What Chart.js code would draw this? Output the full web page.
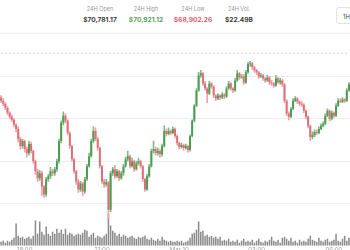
<!DOCTYPE html>
<html><head><meta charset="utf-8">
<script src="https://cdn.jsdelivr.net/npm/chart.js@4/dist/chart.umd.min.js"></script>
<style>
html,body{margin:0;padding:0;width:350px;height:250px;overflow:hidden;background:#fff;font-family:Inter,"Noto Sans",sans-serif;}
.stat{position:absolute;top:6px;width:60px;margin-left:-30px;text-align:center;}
.lab{font-size:5.5px;color:#9a9a9a;line-height:7px;}
.val{font-size:6.6px;font-weight:700;color:#3a3a3a;line-height:8px;margin-top:3px;white-space:nowrap;}
.sep{position:absolute;left:0;top:33px;width:350px;height:1px;background:#ececec;}
.btn{position:absolute;left:336px;top:7px;width:24px;height:17px;border:1px solid #e3e3e3;border-radius:3px;font-size:6px;color:#444;line-height:17px;padding-left:6px;box-sizing:border-box;}
#c{position:absolute;left:0;top:34px;}
</style></head><body>
<div class="stat" style="left:100px"><div class="lab">24H Open</div><div class="val">$70,781.17</div></div>
<div class="stat" style="left:146px"><div class="lab">24H High</div><div class="val" style="color:#5aa35a">$70,921.12</div></div>
<div class="stat" style="left:193px"><div class="lab">24H Low</div><div class="val" style="color:#d9626a">$68,902.26</div></div>
<div class="stat" style="left:239px"><div class="lab">24H Vol.</div><div class="val">$22.49B</div></div>
<div class="btn">1H</div>
<div class="sep"></div>
<canvas id="c" width="350" height="221"></canvas>
<script>
// 5-minute candles, Mar 9 17:05 -> Mar 10 06:35
const tickTimes  = ['18:00','21:00','00:00','03:00','06:00'];
const tickLabels = ['18:00','21:00','Mar 10','03:00','06:00'];
const startMinute = 17*60+5, stepMinutes = 5, candleCount = 163;
const categories = [];
for (let i=0;i<candleCount;i++){const t=(startMinute+i*stepMinutes)%1440;categories.push(String(Math.floor(t/60)).padStart(2,'0')+':'+String(t%60).padStart(2,'0'));}

const opens = [70290,
70260,70230,70190,70140,70100,70070,70020,69980,69880,69810,
69860,69780,69740,69830,69760,69660,69560,69490,69540,69410,
69330,69480,69510,69560,69540,69580,69660,69860,70040,70110,
70060,69940,69810,69680,69560,69460,69380,69440,69360,69480,
69610,69710,69860,69960,69880,69790,69610,69460,69430,69450,
69180,69540,69580,69510,69560,69490,69540,69610,69680,69710,
69610,69660,69580,69640,69660,69610,69480,69380,69510,69610,
69760,69780,69740,69760,69730,69810,69960,69930,69960,69940,
69980,69910,69840,69800,69820,69790,69810,69770,69910,70060,
70210,70360,70510,70530,70430,70380,70330,70430,70400,70310,
70280,70310,70290,70320,70300,70380,70430,70380,70360,70460,
70530,70490,70500,70440,70540,70620,70630,70590,70560,70540,
70500,70510,70480,70460,70490,70440,70430,70410,70480,70440,
70460,70420,70260,70130,70100,70180,70260,70280,70250,70230,
70220,70160,70100,70010,69900,69920,69950,69940,69980,70010,
70030,70110,70160,70080,70140,70110,70210,70260,70250,70270,
70260,70360];
const closes = [
70260,70230,70190,70140,70100,70070,70020,69980,69880,69810,
69860,69780,69740,69830,69760,69660,69560,69490,69540,69410,
69330,69480,69510,69560,69540,69580,69660,69860,70040,70110,
70060,69940,69810,69680,69560,69460,69380,69440,69360,69480,
69610,69710,69860,69960,69880,69790,69610,69460,69430,69450,
69180,69540,69580,69510,69560,69490,69540,69610,69680,69710,
69610,69660,69580,69640,69660,69610,69480,69380,69510,69610,
69760,69780,69740,69760,69730,69810,69960,69930,69960,69940,
69980,69910,69840,69800,69820,69790,69810,69770,69910,70060,
70210,70360,70510,70530,70430,70380,70330,70430,70400,70310,
70280,70310,70290,70320,70300,70380,70430,70380,70360,70460,
70530,70490,70500,70440,70540,70620,70630,70590,70560,70540,
70500,70510,70480,70460,70490,70440,70430,70410,70480,70440,
70460,70420,70260,70130,70100,70180,70260,70280,70250,70230,
70220,70160,70100,70010,69900,69920,69950,69940,69980,70010,
70030,70110,70160,70080,70140,70110,70210,70260,70250,70270,
70260,70360,70420];
const highs = [
70310,70280,70240,70200,70150,70120,70080,70030,70000,69900,
69880,69870,69800,69860,69850,69770,69670,69580,69570,69560,
69420,69500,69530,69600,69580,69600,69680,69880,70060,70150,
70130,70070,69950,69820,69690,69570,69480,69460,69450,69500,
69630,69740,69880,70000,69990,69900,69800,69620,69480,69480,
69460,69560,69600,69620,69580,69570,69560,69630,69700,69760,
69720,69690,69670,69660,69690,69670,69620,69490,69530,69630,
69780,69860,69800,69790,69780,69830,70010,69980,69990,69970,
70000,69990,69920,69850,69840,69830,69830,69820,69920,70070,
70220,70380,70540,70560,70540,70450,70390,70450,70440,70410,
70320,70330,70320,70340,70330,70400,70450,70440,70390,70480,
70560,70540,70520,70520,70560,70640,70650,70640,70600,70570,
70550,70530,70520,70490,70510,70500,70460,70440,70510,70490,
70480,70470,70430,70270,70150,70190,70280,70300,70290,70260,
70250,70230,70170,70110,70020,69950,69970,69970,70000,70030,
70050,70130,70180,70170,70160,70150,70230,70280,70280,70290,
70280,70380,70440];
const lows = [
70240,70210,70170,70120,70080,70050,70000,69950,69850,69780,
69790,69750,69700,69720,69740,69640,69530,69460,69470,69320,
69300,69310,69460,69490,69520,69520,69560,69640,69840,70020,
70040,69920,69790,69660,69540,69430,69350,69360,69320,69340,
69470,69600,69700,69840,69860,69770,69590,69440,69400,69410,
69090,69160,69520,69490,69500,69470,69480,69520,69600,69660,
69590,69600,69560,69570,69620,69590,69460,69360,69370,69500,
69600,69740,69720,69720,69700,69710,69800,69910,69920,69920,
69930,69890,69820,69780,69790,69770,69780,69750,69760,69900,
70050,70200,70350,70490,70410,70360,70240,70320,70380,70290,
70260,70270,70270,70280,70280,70290,70370,70360,70340,70350,
70450,70470,70480,70420,70430,70530,70600,70570,70540,70520,
70480,70490,70460,70440,70450,70420,70410,70390,70400,70430,
70420,70400,70240,70110,70070,70090,70170,70250,70230,70210,
70200,70140,70080,69990,69860,69880,69900,69920,69930,69970,
70000,70020,70100,70060,70070,70090,70100,70200,70240,70240,
70240,70250,70350];
const volumes = [
40,50,30,50,40,60,80,220,100,80,
90,70,80,90,70,100,250,120,240,140,
110,190,120,100,140,120,170,130,160,120,
170,110,130,120,100,110,120,110,130,160,
150,90,110,130,80,100,90,80,100,120,
320,200,150,130,100,120,90,110,100,80,
90,100,80,70,90,80,90,100,70,60,
80,60,50,70,50,90,60,50,40,50,
40,40,50,40,50,30,40,50,80,120,
130,160,240,140,150,100,110,90,100,80,
90,70,90,50,60,50,70,40,50,40,
60,30,50,70,40,50,40,60,30,50,
70,40,30,50,40,60,90,50,40,60,
30,80,90,70,50,80,40,50,30,60,
40,50,40,70,100,60,50,40,80,50,
40,60,70,40,50,60,120,50,40,70,
100,50,80];
const refLevel = 70730;
const gridLevels = [70500, 70080, 69660, 69240];

const UP = '#4a9c4e', DOWN = '#e06c77', UPW = '#80bb83', DOWNW = '#eda2a8';
const isUp = closes.map((c,i)=>c>=opens[i]);

new Chart(document.getElementById('c'), {
  data: {
    labels: categories,
    datasets: [
      { type:'line', data: categories.map(()=>refLevel), borderColor:'#cfcfcf', borderWidth:1, borderDash:[2,2], pointRadius:0, yAxisID:'y', order:0 },
      { type:'bar', data: opens.map((o,i)=>[o,closes[i]]), backgroundColor: isUp.map(u=>u?UP:DOWN), barPercentage:0.9, categoryPercentage:1, grouped:false, yAxisID:'y', order:1 },
      { type:'bar', data: lows.map((l,i)=>[l,highs[i]]), backgroundColor: isUp.map(u=>u?UPW:DOWNW), barThickness:1, grouped:false, yAxisID:'y', order:2 },
      { type:'bar', data: volumes, backgroundColor:'#8a8a8a', barPercentage:0.7, categoryPercentage:1, grouped:false, yAxisID:'yv', order:3 }
    ]
  },
  options: {
    responsive:false, animation:false, devicePixelRatio:1,
    layout:{padding:0},
    plugins:{legend:{display:false}, tooltip:{enabled:false}},
    scales:{
      x:{ offset:true, grid:{display:false, drawTicks:false}, border:{display:false},
          ticks:{ autoSkip:false, maxRotation:0, padding:1, color:'#a0a0a0', font:{family:'Inter', size:6},
                  callback:(v,i)=>{const k=tickTimes.indexOf(categories[i]); return k>=0?tickLabels[k]:'';} } },
      y:{ min:68822, max:70920, position:'right', grid:{color:'#ededed', drawTicks:false}, border:{display:false},
          ticks:{display:false}, afterBuildTicks:(ax)=>{ax.ticks=gridLevels.map(v=>({value:v}));} },
      yv:{ min:0, max:2098, display:false }
    }
  }
});
</script>
</body></html>
